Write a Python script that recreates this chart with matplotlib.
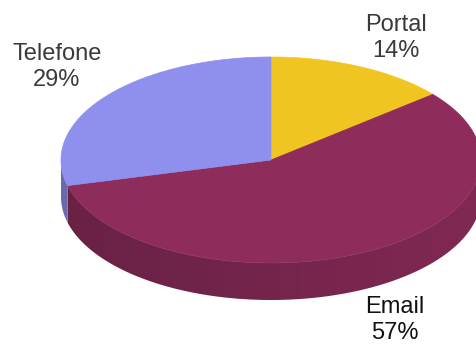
import numpy as np
import matplotlib
matplotlib.use("Agg")
from matplotlib import pyplot as plt
from matplotlib.patches import Polygon
import matplotlib.colors as mcolors

# contact channel shares
labels = ["Portal", "Email", "Telefone"]
shares = [14, 57, 29]
colors = ["#F1C521", "#8E2D5C", "#8F8FEE"]
label_xy = [(396, 38), (395, 320), (57, 67)]
label_colors = ["#3a3a3a", "#111111", "#3a3a3a"]

plt.rcParams["font.family"] = ["Liberation Sans", "DejaVu Sans"]

W, H = 477, 345
fig = plt.figure(figsize=(W / 100, H / 100), dpi=100)
ax = fig.add_axes([0, 0, 1, 1])
ax.set_xlim(0, W)
ax.set_ylim(H, 0)
ax.axis("off")

cx, cy = 271, 160
rx, ry = 210, 103
depth = 37


def rim(t):
    return cx + rx * np.cos(t), cy - ry * np.sin(t)


fracs = np.array(shares) / sum(shares)
edges = np.radians(90 - 360 * np.concatenate([[0], np.cumsum(fracs)]))

# side wall: solid polygon per slice, filled with a left-to-right shading gradient
gx = np.linspace(cx - rx, cx + rx, 400)
shade = 0.74 + 0.16 * (gx - (cx - rx)) / (2 * rx)
for i, c in enumerate(colors):
    a0, a1 = edges[i], edges[i + 1]
    ts = np.linspace(a0, a1, 300)
    ts = ts[np.sin(ts) <= 0.0]
    if len(ts) < 2:
        continue
    xs, ys = rim(ts)
    pts = list(zip(xs, ys)) + list(zip(xs[::-1], ys[::-1] + depth))
    side = Polygon(pts, closed=True, facecolor="none", edgecolor="none")
    ax.add_patch(side)
    rgb = np.array(mcolors.to_rgb(c))
    img = (shade[:, None] * rgb[None, :])[None, :, :]
    im = ax.imshow(img, extent=(cx - rx, cx + rx, cy + ry + depth + 2, cy - 2),
                   aspect="auto", interpolation="bilinear", zorder=1)
    im.set_clip_path(side)

# top face of each slice
for i, c in enumerate(colors):
    ts = np.linspace(edges[i], edges[i + 1], 200)
    xs, ys = rim(ts)
    pts = [(cx, cy)] + list(zip(xs, ys))
    ax.add_patch(Polygon(pts, closed=True, facecolor=c, edgecolor=c, linewidth=0.5,
                         zorder=2))

for name, s, (lx, ly), tc in zip(labels, shares, label_xy, label_colors):
    ax.text(lx, ly, f"{name}\n{s}%", ha="center", va="center", fontsize=17,
            color=tc, linespacing=1.2)

ax.set_xlim(0, W)
ax.set_ylim(H, 0)
fig.savefig("out.png", dpi=100)
